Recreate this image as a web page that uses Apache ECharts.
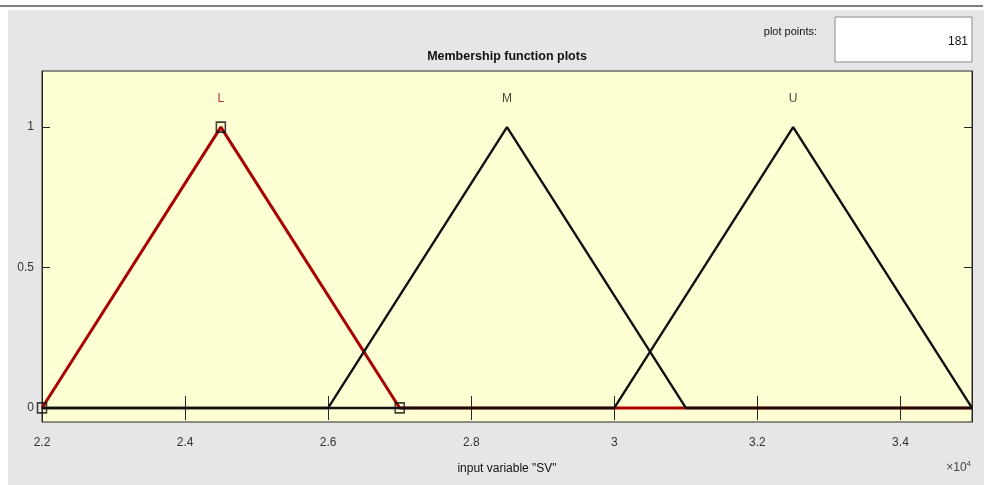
<!DOCTYPE html>
<html>
<head>
<meta charset="utf-8">
<title>Membership function plots</title>
<script src="https://cdn.jsdelivr.net/npm/echarts@6/dist/echarts.min.js"></script>
<style>
  html, body { margin: 0; padding: 0; background: #fff; }
  #chart { width: 987px; height: 485px; }
</style>
</head>
<body>
<div id="chart"></div>
<script>
// Input variable "SV": range and triangular membership functions [a, b, c]
const svRange = [22000, 35000];
const mfNames = ['L', 'M', 'U'];
const paramsL = [22000, 24500, 27000];
const paramsM = [26000, 28500, 31000];
const paramsU = [30000, 32500, 35000];

// Axis ticks
const xTickValues = [22000, 24000, 26000, 28000, 30000, 32000, 34000];
const xTickLabels = ['2.2', '2.4', '2.6', '2.8', '3', '3.2', '3.4'];
const yTickValues = [0, 0.5, 1];
const yTickLabels = ['0', '0.5', '1'];

const plotPoints = 181;
const FONT = '"Liberation Sans Narrow", "Liberation Sans", Arial, sans-serif';

// Polyline of a triangle MF over the whole input range (zero outside its support)
function triPath(p) {
  const pts = [];
  if (p[0] > svRange[0]) pts.push([svRange[0], 0]);
  pts.push([p[0], 0], [p[1], 1], [p[2], 0]);
  if (p[2] < svRange[1]) pts.push([svRange[1], 0]);
  return pts;
}

const allParams = [paramsL, paramsM, paramsU];
const mfColors = ['#a80000', '#111', '#111'];
const mfWidths = [3, 2.4, 2.4];

const lineSeries = allParams.map((p, i) => ({
  type: 'line',
  name: mfNames[i],
  data: triPath(p),
  showSymbol: false,
  lineStyle: { color: mfColors[i], width: mfWidths[i] },
  z: 2 + i,
  silent: true
}));

// MF names just above each peak
const nameSeries = {
  type: 'scatter',
  data: allParams.map((p, i) => ({
    value: [p[1], 1.1],
    name: mfNames[i],
    label: { color: i === 0 ? '#8b0000' : '#111' }
  })),
  symbolSize: 0,
  label: {
    show: true,
    position: 'inside',
    formatter: d => d.name,
    fontFamily: FONT,
    fontSize: 12
  },
  z: 6,
  silent: true
};

// Handles on the parameters of the selected MF (L)
const handleSeries = {
  type: 'scatter',
  data: paramsL.map((x, i) => [x, i === 1 ? 1 : 0]),
  symbol: 'rect',
  symbolSize: [9, 10],
  itemStyle: { color: 'rgba(0,0,0,0)', borderColor: '#111', borderWidth: 1.6 },
  z: 7,
  silent: true
};

const axisColor = '#262626';

const option = {
  animation: false,
  backgroundColor: '#fff',
  textStyle: { fontFamily: FONT },
  grid: {
    left: 42, right: 15, top: 71, bottom: 63,
    show: true,
    backgroundColor: '#ffffd4',
    borderColor: axisColor,
    borderWidth: 1
  },
  xAxis: [
    {
      type: 'value',
      min: svRange[0], max: svRange[1],
      position: 'bottom',
      axisLine: { show: true, lineStyle: { color: axisColor } },
      axisTick: { show: true, inside: true, length: 12, customValues: xTickValues, lineStyle: { color: axisColor } },
      axisLabel: {
        customValues: xTickValues,
        formatter: v => xTickLabels[xTickValues.indexOf(v)] || '',
        margin: 15, fontSize: 12, color: '#333', fontFamily: FONT
      },
      splitLine: { show: false },
      name: 'input variable "SV"',
      nameLocation: 'middle',
      nameGap: 41,
      nameTextStyle: { fontSize: 12, color: '#111', fontFamily: FONT }
    },
    {
      type: 'value',
      min: svRange[0], max: svRange[1],
      position: 'top',
      axisLine: { show: true, lineStyle: { color: axisColor } },
      axisTick: { show: true, inside: true, length: 12, customValues: xTickValues, lineStyle: { color: axisColor } },
      axisLabel: { show: false },
      splitLine: { show: false }
    }
  ],
  yAxis: [
    {
      type: 'value',
      min: -0.05, max: 1.2,
      position: 'left',
      axisLine: { show: true, lineStyle: { color: axisColor } },
      axisTick: { show: true, inside: true, length: 8, customValues: yTickValues, lineStyle: { color: axisColor } },
      axisLabel: {
        customValues: yTickValues,
        formatter: v => yTickLabels[yTickValues.indexOf(v)] || '',
        margin: 8, fontSize: 12, color: '#333', fontFamily: FONT
      },
      splitLine: { show: false }
    },
    {
      type: 'value',
      min: -0.05, max: 1.2,
      position: 'right',
      axisLine: { show: true, lineStyle: { color: axisColor } },
      axisTick: { show: true, inside: true, length: 8, customValues: yTickValues, lineStyle: { color: axisColor } },
      axisLabel: { show: false },
      splitLine: { show: false }
    }
  ],
  graphic: [
    // panel background
    { type: 'rect', z: -10, silent: true,
      shape: { x: 8, y: 10, width: 976, height: 475 },
      style: { fill: '#e6e6e6' } },
    // separator line along the top
    { type: 'line', z: -9, silent: true,
      shape: { x1: 0, y1: 6, x2: 983, y2: 6 },
      style: { stroke: '#555', lineWidth: 1.5 } },
    // title
    { type: 'text', z: 10, silent: true, x: 507, y: 57,
      style: { text: 'Membership function plots', fontFamily: FONT, fontWeight: 'bold',
        fontSize: 12.5, fill: '#111', align: 'center', verticalAlign: 'middle' } },
    // plot points caption and field
    { type: 'text', z: 10, silent: true, x: 817, y: 32,
      style: { text: 'plot points:', fontFamily: FONT, fontSize: 11, fill: '#111',
        align: 'right', verticalAlign: 'middle' } },
    { type: 'rect', z: 10, silent: true,
      shape: { x: 835, y: 17, width: 137, height: 45 },
      style: { fill: '#fff', stroke: '#8a8a8a', lineWidth: 1 } },
    { type: 'text', z: 11, silent: true, x: 968, y: 42,
      style: { text: String(plotPoints), fontFamily: FONT, fontSize: 12, fill: '#111',
        align: 'right', verticalAlign: 'middle' } },
    // exponent of the x axis
    { type: 'text', z: 10, silent: true, x: 971, y: 468,
      style: { text: '×10{s|4}', fontFamily: FONT, fontSize: 12, fill: '#444',
        align: 'right', verticalAlign: 'middle',
        rich: { s: { fontSize: 8, fill: '#444', verticalAlign: 'top', padding: [0, 0, 8, 0] } } } }
  ],
  series: [...lineSeries, nameSeries, handleSeries]
};

const chart = echarts.init(document.getElementById('chart'), null, { renderer: 'canvas' });
chart.setOption(option);
</script>
</body>
</html>
